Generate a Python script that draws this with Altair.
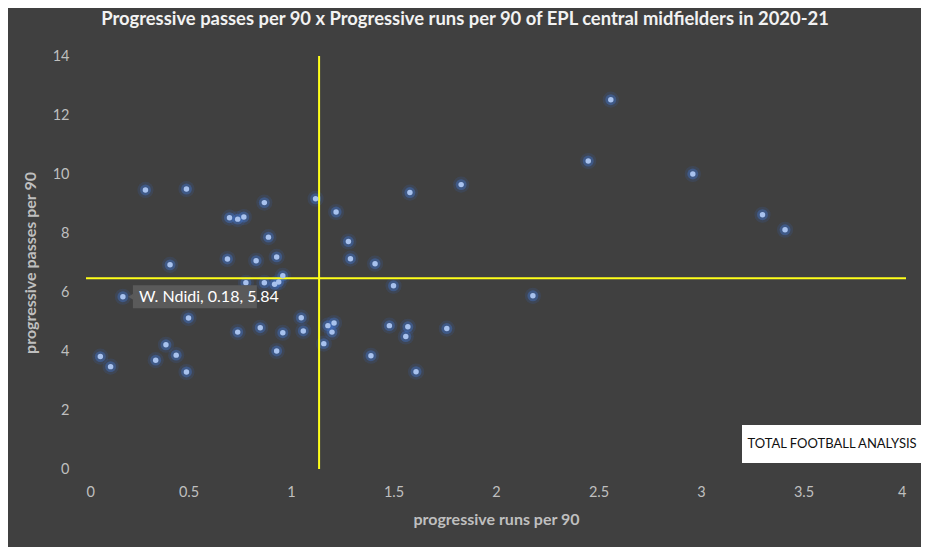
import altair as alt
import pandas as pd

# progressive runs per 90 (x) and progressive passes per 90 (y)
runs = [0.07, 0.12, 0.18, 0.29, 0.34, 0.39, 0.41, 0.44, 0.49, 0.49, 0.50,
        0.69, 0.70, 0.74, 0.74, 0.77, 0.78, 0.83, 0.85, 0.87, 0.87, 0.89,
        0.92, 0.93, 0.93, 0.94, 0.96, 0.96, 1.05, 1.06, 1.12, 1.16, 1.18,
        1.20, 1.21, 1.22, 1.28, 1.29, 1.39, 1.41, 1.48, 1.50, 1.56, 1.57,
        1.58, 1.61, 1.76, 1.83, 2.18, 2.45, 2.56, 2.96, 3.30, 3.41]
passes = [3.81, 3.47, 5.84, 9.46, 3.69, 4.21, 6.92, 3.86, 9.49, 3.29, 5.12,
          7.12, 8.52, 8.47, 4.64, 8.54, 6.31, 7.06, 4.79, 6.31, 9.03, 7.86,
          6.26, 7.19, 4.00, 6.34, 6.55, 4.62, 5.13, 4.68, 9.16, 4.25, 4.86,
          4.64, 4.95, 8.71, 7.71, 7.13, 3.84, 6.96, 4.86, 6.21, 4.49, 4.82,
          9.37, 3.30, 4.76, 9.64, 5.87, 10.44, 12.52, 10.00, 8.62, 8.11]

avg_runs = 1.137
avg_passes = 6.47

label_player = ["W. Ndidi"]
label_runs = [0.18]
label_passes = [5.84]

x_ticks = [0, 0.5, 1, 1.5, 2, 2.5, 3, 3.5, 4]
y_ticks = [0, 2, 4, 6, 8, 10, 12, 14]

title_text = "Progressive passes per 90 x Progressive runs per 90 of EPL central midfielders in 2020-21"
x_title = "progressive runs per 90"
y_title = "progressive passes per 90"
logo_text = "TOTAL FOOTBALL ANALYSIS"

FONT = "Lato"
LABEL_COLOR = "#bfbfbf"

df = pd.DataFrame({"runs": runs, "passes": passes})
lab = pd.DataFrame({"player": label_player, "runs": label_runs, "passes": label_passes})
lab["text"] = lab.apply(lambda r: f"{r.player}, {r.runs:.2f}, {r.passes:.2f}", axis=1)
vline = pd.DataFrame({"runs": [avg_runs], "p0": [0], "p1": [14]})
hline = pd.DataFrame({"passes": [avg_passes], "r0": [0], "r1": [4]})

xscale = alt.Scale(domain=[0, 4], nice=False)
yscale = alt.Scale(domain=[0, 14], nice=False)

xaxis = alt.Axis(values=x_ticks, format=".1~f", title=x_title, labelPadding=16,
                 titlePadding=13)
yaxis = alt.Axis(values=y_ticks, format="d", title=y_title, labelPadding=17,
                 titlePadding=14)

base = alt.Chart(df)

glow_outer = base.mark_circle(size=260, color="#3a6cc4", opacity=0.16).encode(
    x=alt.X("runs:Q", scale=xscale, axis=xaxis),
    y=alt.Y("passes:Q", scale=yscale, axis=yaxis),
)
glow_inner = base.mark_circle(size=120, color="#4275d0", opacity=0.4).encode(
    x=alt.X("runs:Q", scale=xscale),
    y=alt.Y("passes:Q", scale=yscale),
)
core = base.mark_circle(size=30, color="#a8c2ee", opacity=1).encode(
    x=alt.X("runs:Q", scale=xscale),
    y=alt.Y("passes:Q", scale=yscale),
)

v_rule = alt.Chart(vline).mark_rule(color="#ffff1a", strokeWidth=2).encode(
    x=alt.X("runs:Q", scale=xscale),
    y=alt.Y("p0:Q", scale=yscale),
    y2="p1:Q",
)
h_rule = alt.Chart(hline).mark_rule(color="#ffff1a", strokeWidth=2).encode(
    y=alt.Y("passes:Q", scale=yscale),
    x=alt.X("r0:Q", scale=xscale),
    x2="r1:Q",
)

label_box = alt.Chart(lab).mark_rect(color="#5a5a5a", width=124, height=23,
                                     xOffset=72).encode(
    x=alt.X("runs:Q", scale=xscale),
    y=alt.Y("passes:Q", scale=yscale),
)
label_ptr = alt.Chart(lab).mark_point(shape="triangle-left", filled=True,
                                      color="#5a5a5a", size=40, opacity=1,
                                      xOffset=8).encode(
    x=alt.X("runs:Q", scale=xscale),
    y=alt.Y("passes:Q", scale=yscale),
)
label_txt = alt.Chart(lab).mark_text(color="#ffffff", font=FONT, fontSize=16,
                                     align="left", baseline="middle",
                                     dx=16, dy=0).encode(
    x=alt.X("runs:Q", scale=xscale),
    y=alt.Y("passes:Q", scale=yscale),
    text="text:N",
)

logo_df = pd.DataFrame({"t": [logo_text]})
logo_box = alt.Chart(logo_df).mark_rect(color="#ffffff").encode(
    x=alt.value(656), x2=alt.value(860), y=alt.value(369), y2=alt.value(407)
)
logo_txt = alt.Chart(logo_df).mark_text(color="#111111", font=FONT,
                                        fontSize=13, align="center",
                                        baseline="middle").encode(
    x=alt.value(746), y=alt.value(388), text="t:N"
)

chart = alt.layer(
    glow_outer, glow_inner, v_rule, h_rule, core, label_box, label_ptr, label_txt,
    logo_box, logo_txt
).properties(
    width=820,
    height=413,
    title=alt.TitleParams(title_text, font=FONT, fontSize=18.4, fontWeight="bold",
                          color="#f2f2f2", anchor="middle", dx=-31, offset=20),
    autosize=alt.AutoSizeParams(type="none"),
    padding={"left": 78, "top": 48, "right": 15, "bottom": 78},
).configure(
    background="#404040",
).configure_view(
    stroke=None,
).configure_axis(
    grid=False, domain=False, ticks=False,
    labelFont=FONT, labelFontSize=14.5, labelColor=LABEL_COLOR,
    titleFont=FONT, titleFontSize=16, titleColor=LABEL_COLOR, titleFontWeight="bold",
)

chart.save("out.html", embed_options={"renderer": "svg", "actions": False})
